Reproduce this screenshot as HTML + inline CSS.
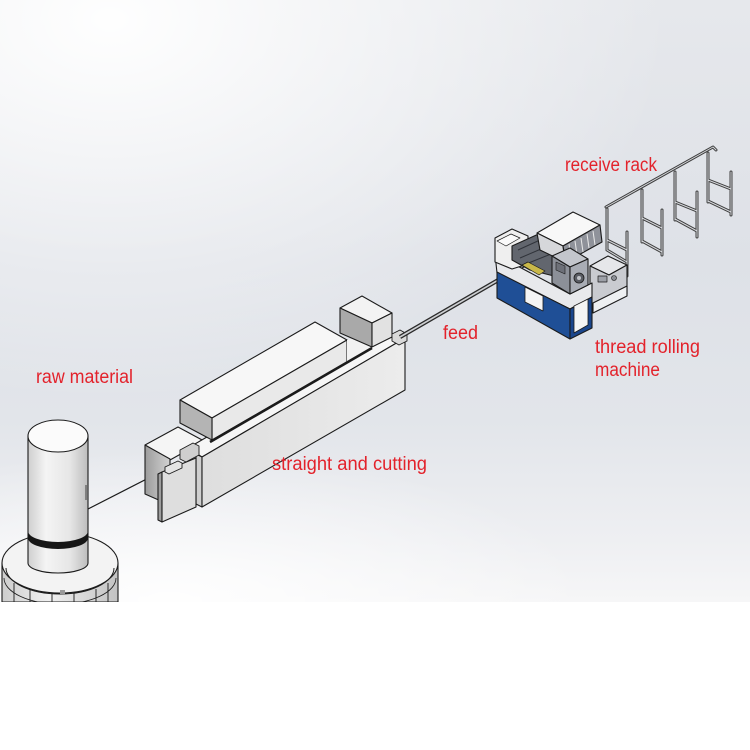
<!DOCTYPE html>
<html><head><meta charset="utf-8">
<style>
html,body{margin:0;padding:0;background:#fff;}
#wrap{position:relative;width:750px;height:750px;overflow:hidden;background:#fff;}
#bg{position:absolute;left:0;top:0;width:750px;height:602px;
background:
radial-gradient(ellipse 560px 380px at 110px 20px, rgba(255,255,255,0.97), rgba(255,255,255,0) 100%),
radial-gradient(ellipse 420px 150px at 170px 600px, rgba(255,255,255,0.9), rgba(255,255,255,0) 100%),
linear-gradient(to bottom, #e6e8ec 0px, #dee1e7 260px, #e2e5ea 420px, #eeeff2 540px, #f6f6f7 602px);}
svg{position:absolute;left:0;top:0;}
text{font-family:"Liberation Sans",sans-serif;fill:#e3222b;font-size:19px;}
</style></head>
<body><div id="wrap"><div id="bg"></div>
<svg width="750" height="750" viewBox="0 0 750 750" xmlns="http://www.w3.org/2000/svg">
<defs>
<linearGradient id="cyl" x1="0" x2="1" y1="0" y2="0">
<stop offset="0" stop-color="#cfcfcf"/><stop offset="0.3" stop-color="#f4f4f4"/><stop offset="0.7" stop-color="#e6e6e6"/><stop offset="1" stop-color="#bdbdbd"/>
</linearGradient>
<linearGradient id="rim" x1="0" x2="1" y1="0" y2="0">
<stop offset="0" stop-color="#cdcdcd"/><stop offset="0.4" stop-color="#f0f0f0"/><stop offset="1" stop-color="#c2c2c2"/>
</linearGradient>
<linearGradient id="lf" x1="0" x2="1" y1="0" y2="0">
<stop offset="0" stop-color="#9c9c9c"/><stop offset="1" stop-color="#d2d2d2"/>
</linearGradient>
<linearGradient id="ff" x1="0" x2="1" y1="0" y2="0">
<stop offset="0" stop-color="#dedede"/><stop offset="1" stop-color="#ececec"/>
</linearGradient>
<clipPath id="cp"><rect x="0" y="0" width="750" height="602"/></clipPath>
</defs>

<g clip-path="url(#cp)" stroke="#1b1b1b" stroke-width="1.1" stroke-linejoin="round">
<!-- ===== raw material base ===== -->
<path d="M2,563 L2,602 L118,602 L118,563 Z" fill="url(#rim)"/>
<ellipse cx="60" cy="563" rx="58" ry="30" fill="#f3f3f3"/>
<path d="M6,568 A54,26 0 0 0 114,568" fill="none" stroke-width="1"/>
<path d="M4,578 A56,26 0 0 0 116,578" fill="none" stroke-width="0.8"/>
<path d="M14,583 L14,602 M30,590 L30,602 M52,593 L52,602 M74,593 L74,602 M96,589 L96,602 M108,583 L108,602" stroke-width="0.9"/>
<rect x="60" y="590" width="5" height="4" fill="#9a9a9a" stroke="none"/>
<!-- cylinder -->
<path d="M28,436 L28,563 A30,10 0 0 0 88,563 L88,436 Z" fill="url(#cyl)"/>
<path d="M28,531 A30,11 0 0 0 88,531 L88,538 A30,11 0 0 1 28,538 Z" fill="#161616" stroke="none"/>
<ellipse cx="58" cy="436" rx="30" ry="16" fill="#fbfbfb"/>
<line x1="86" y1="485" x2="86" y2="500" stroke-width="0.8"/>
<!-- wire -->
<line x1="88" y1="509" x2="174" y2="465" stroke-width="1.2"/>

<!-- ===== straight and cutting ===== -->
<polygon points="145,445 178,427 204,441 170,460" fill="#f5f5f5"/>
<polygon points="145,445 170,459 170,505 145,494" fill="url(#lf)"/>
<polygon points="188,448 202,457 400,341 386,333" fill="#f6f6f6"/>
<polygon points="180,400 315,322 347,340 212,418" fill="#f7f7f7"/>
<polygon points="212,418 347,340 347,362 212,440" fill="#e9e9e9"/>
<polygon points="180,400 212,418 212,440 180,423" fill="#b4b4b4"/>
<polygon points="347,340 347,362 372,347 372,334" fill="#f2f2f2" stroke="none"/>
<polygon points="340,308 362,296 392,313 372,323" fill="#f3f3f3"/>
<polygon points="340,308 372,323 372,347 340,333" fill="#a9a9a9"/>
<polygon points="372,323 392,313 392,337 372,347" fill="#e2e2e2"/>
<line x1="210" y1="442" x2="372" y2="348" stroke-width="2.6"/>
<polygon points="196,454 202,457 202,507 196,504" fill="#cfcfcf"/>
<polygon points="202,457 405,338 405,390 202,507" fill="url(#ff)"/>
<polygon points="392,334 400,330 407,334 407,341 399,345 392,341" fill="#d9d9d9" stroke-width="0.9"/>
<polygon points="158,474 162,472 162,522 158,520" fill="#9d9d9d"/>
<polygon points="162,472 196,458 196,507 162,522" fill="#dedede"/>
<polygon points="180,450 193,443 199,446 199,455 186,462 180,459" fill="#cfcfcf" stroke-width="0.9"/>
<polygon points="165,467 178,461 182,463 182,468 169,474 165,472" fill="#e4e4e4" stroke-width="0.9"/>

<!-- ===== feed rod ===== -->
<line x1="400" y1="337" x2="526" y2="264" stroke="#2a2a2a" stroke-width="4.2"/>
<line x1="400" y1="337" x2="526" y2="264" stroke="#cdcfd2" stroke-width="1.6"/>

<!-- ===== receive rack ===== -->
<g fill="none" stroke-linecap="round">
<g stroke="#3e3e3e" stroke-width="3">
<path d="M606,207 L713,147 L716,150"/>
<path d="M607,209 L607,250 M627,232 L627,276 M607,240 L627,250 M607,250 L627,262"/>
<path d="M642,190 L642,242 M662,210 L662,255 M642,218 L662,228 M642,241 L662,252"/>
<path d="M675,172 L675,220 M697,192 L697,237 M675,202 L697,211 M675,219 L697,231"/>
<path d="M708,153 L708,202 M731,172 L731,215 M708,180 L731,189 M708,201 L731,212"/>
</g>
<g stroke="#d6d8dc" stroke-width="1">
<path d="M606,207 L713,147 L716,150"/>
<path d="M607,209 L607,250 M627,232 L627,276 M607,240 L627,250 M607,250 L627,262"/>
<path d="M642,190 L642,242 M662,210 L662,255 M642,218 L662,228 M642,241 L662,252"/>
<path d="M675,172 L675,220 M697,192 L697,237 M675,202 L697,211 M675,219 L697,231"/>
<path d="M708,153 L708,202 M731,172 L731,215 M708,180 L731,189 M708,201 L731,212"/>
</g>
</g>

<!-- ===== thread rolling machine ===== -->
<polygon points="590,266 608,256 627,265 609,275" fill="#e6e7ea"/>
<polygon points="590,266 609,275 627,265 627,294 593,312 590,310" fill="#c9cbd0"/>
<polygon points="593,303 627,286 627,296 593,313" fill="#eef0f2"/>
<rect x="598" y="276" width="9" height="6" fill="#9ea1a8" stroke-width="0.7"/>
<circle cx="614" cy="278" r="2.5" fill="#8a8d94" stroke-width="0.6"/>
<polygon points="495,254 510,262 570,294 592,283 592,297 570,309 497,273" fill="#e8e9ec"/>
<polygon points="497,272 570,309 570,339 497,298" fill="#1f4f96"/>
<polygon points="570,309 592,297 592,328 570,339" fill="#1b468c"/>
<polygon points="525,287 543,296 543,311 525,302" fill="#f4f4f4" stroke-width="0.8"/>
<polygon points="574,306 588,299 588,325 574,333" fill="#f4f4f4" stroke-width="0.8"/>
<polygon points="495,238 512,229 528,236 528,264 512,269 495,262" fill="#efefef"/>
<polygon points="497,241 511,234 520,238 506,246" fill="#fafafa" stroke-width="0.7"/>
<polygon points="512,246 543,232 562,244 562,278 530,270 512,260" fill="#62666e"/>
<path d="M518,250 L540,240 M520,258 L548,246 M526,264 L556,252" stroke="#30333a" stroke-width="1"/>
<polygon points="537,233 573,212 600,225 563,246" fill="#f8f8f8"/>
<polygon points="537,233 563,246 565,262 540,250" fill="#d6d7da"/>
<polygon points="563,246 600,225 602,242 566,262" fill="#8f929a"/>
<path d="M569,244 L571,258 M575,241 L577,255 M581,238 L583,252 M587,234 L589,248 M593,231 L595,245" stroke="#e8e8e8" stroke-width="1"/>
<polygon points="522,265 528,262 545,271 539,275" fill="#c9b84a" stroke-width="0.7"/>
<polygon points="552,256 570,248 588,259 570,267" fill="#c3c6cc"/>
<polygon points="552,256 570,267 570,294 552,283" fill="#8c9098"/>
<polygon points="570,267 588,259 588,285 570,294" fill="#a9adb5"/>
<circle cx="579" cy="278" r="5" fill="#5a5d64" stroke-width="0.8"/>
<circle cx="579" cy="278" r="2" fill="#c0c3c8" stroke="none"/>
<polygon points="556,262 565,266 565,274 556,270" fill="#6d7078" stroke-width="0.6"/>
</g>

<!-- ===== labels ===== -->
<text x="565" y="171" textLength="92" lengthAdjust="spacingAndGlyphs">receive rack</text>
<text x="443" y="339" textLength="35" lengthAdjust="spacingAndGlyphs">feed</text>
<text x="595" y="353" textLength="105" lengthAdjust="spacingAndGlyphs">thread rolling</text>
<text x="595" y="376" textLength="65" lengthAdjust="spacingAndGlyphs">machine</text>
<text x="36" y="383" textLength="97" lengthAdjust="spacingAndGlyphs">raw material</text>
<text x="272" y="470" textLength="155" lengthAdjust="spacingAndGlyphs">straight and cutting</text>
</svg>
</div></body></html>
